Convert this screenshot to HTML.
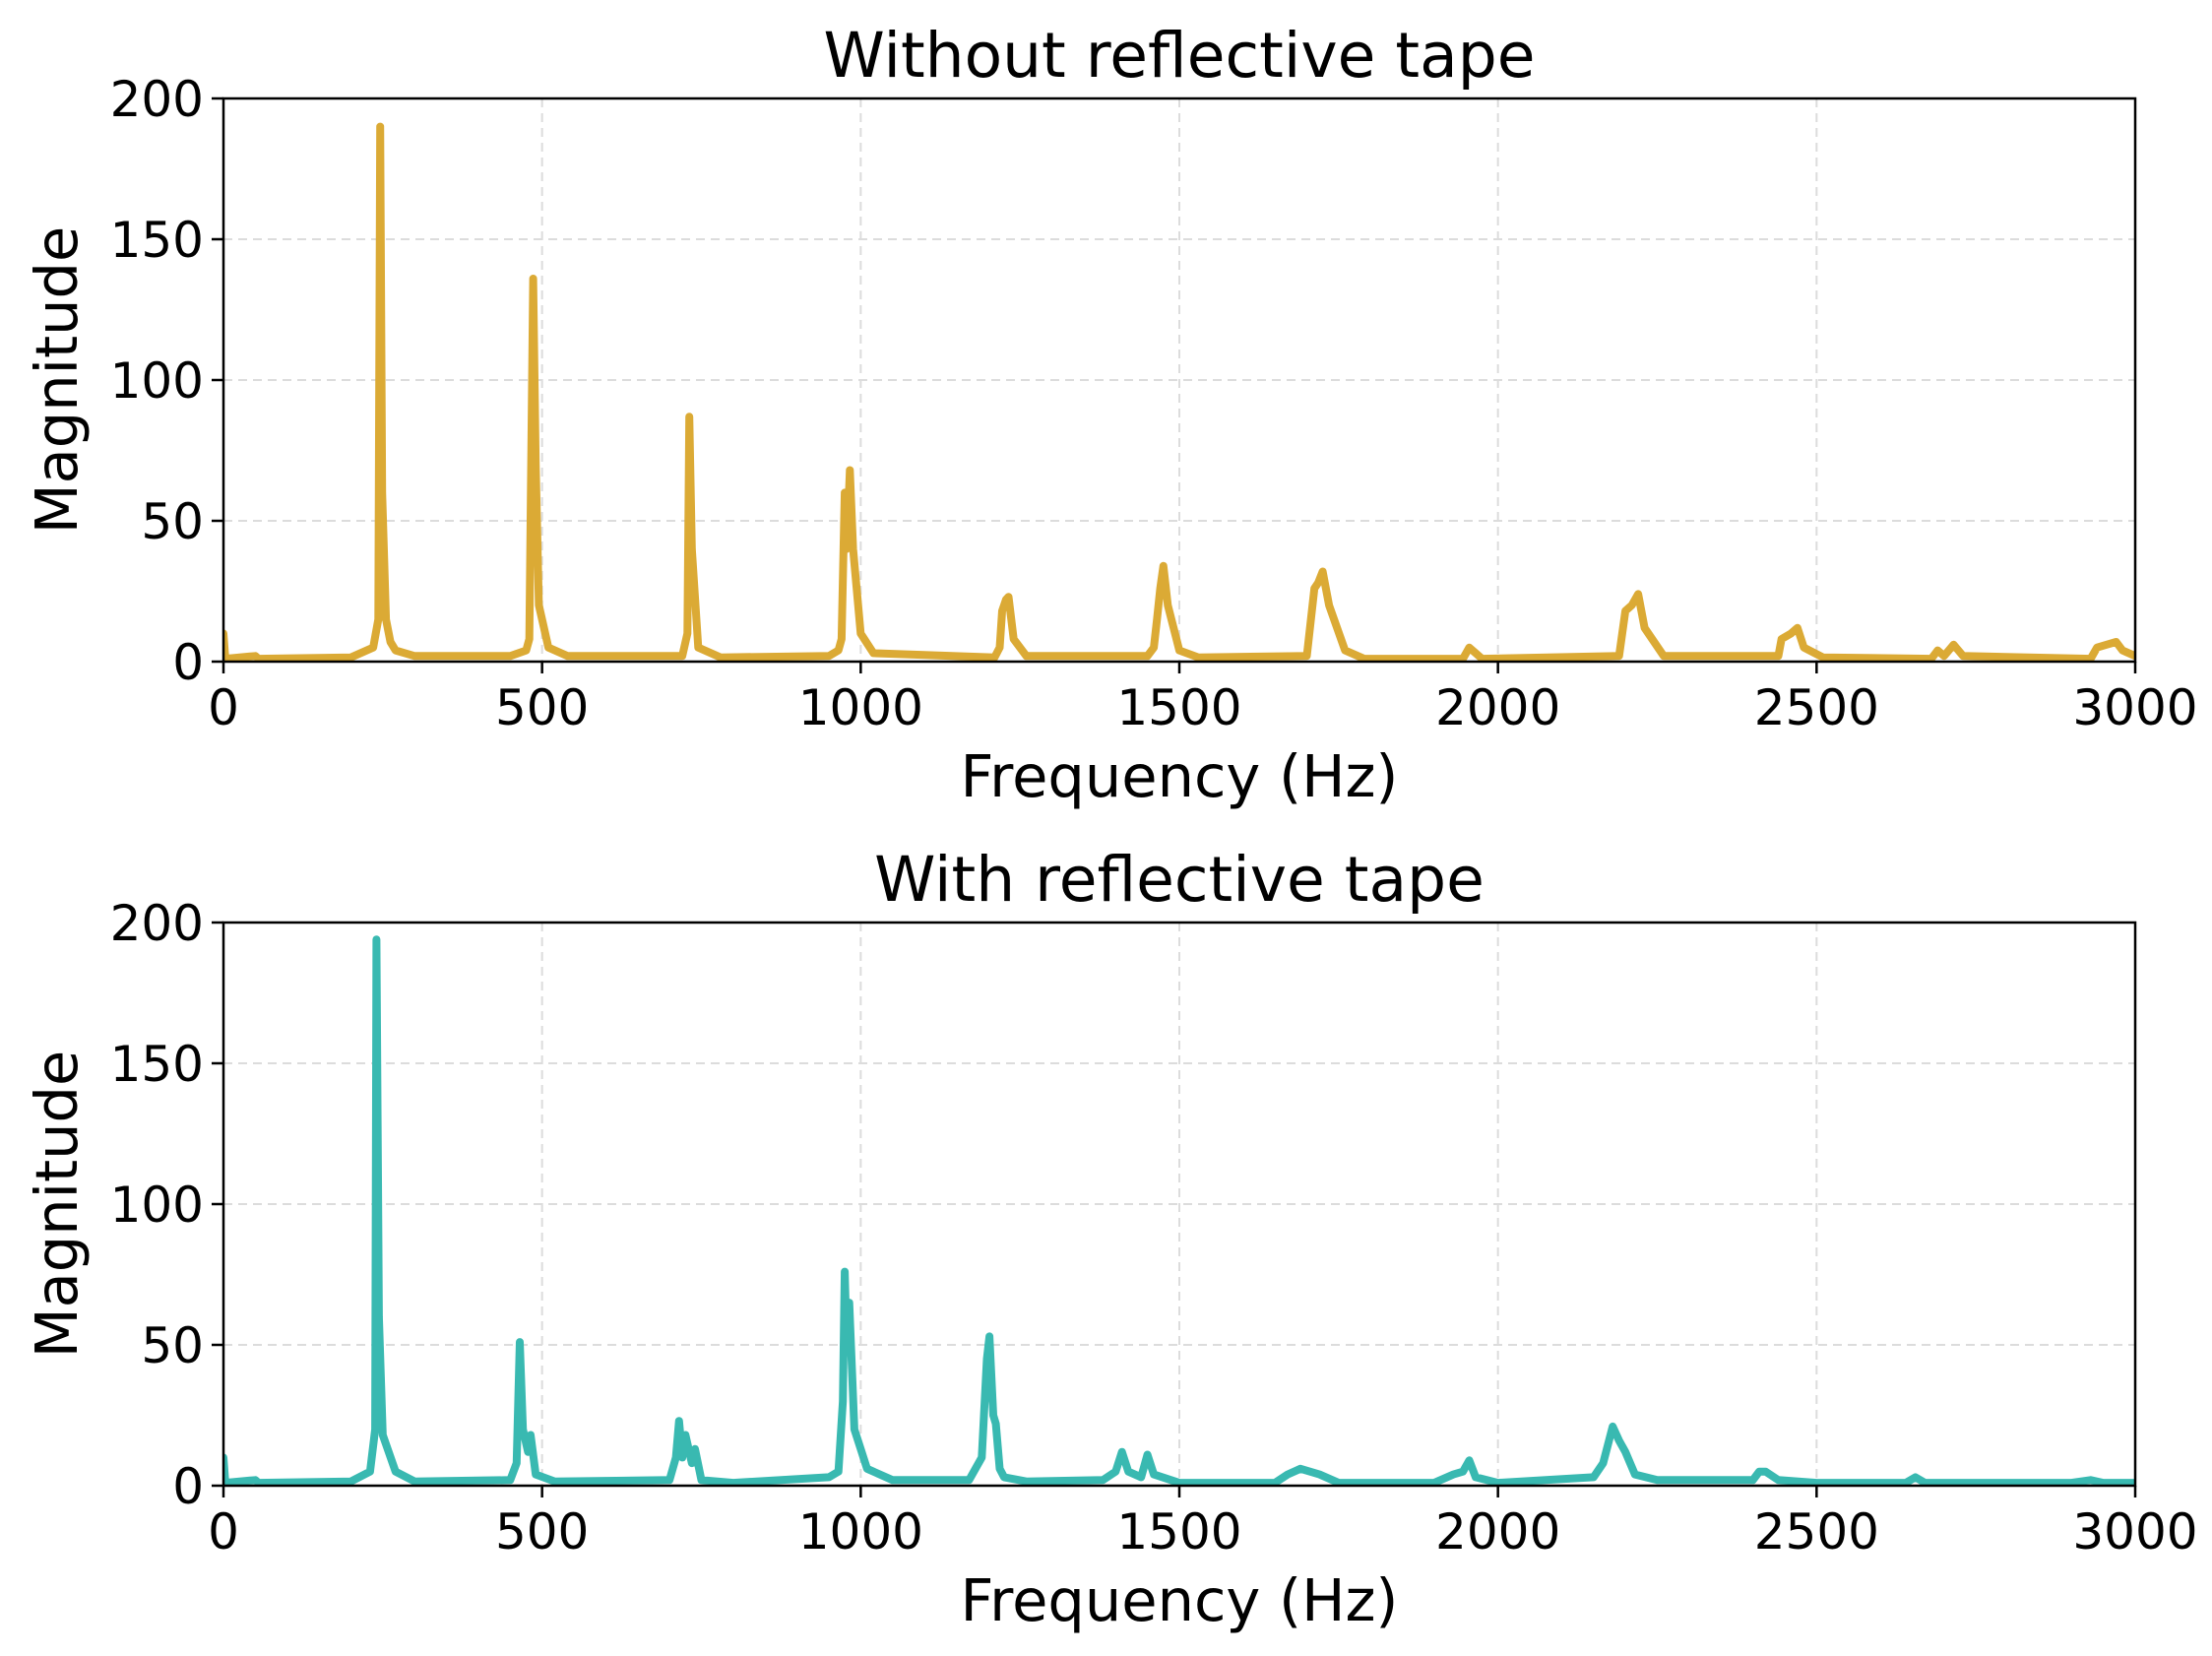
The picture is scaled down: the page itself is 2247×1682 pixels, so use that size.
<!DOCTYPE html>
<html><head><meta charset="utf-8"><style>
html,body{margin:0;padding:0;background:#fff;}
svg{display:block;font-family:"DejaVu Sans","Liberation Sans",sans-serif;}
</style></head><body>
<svg id="chart" width="2247" height="1682" viewBox="0 0 2247 1682"></svg>
<script>
const xTicks=[0,500,1000,1500,2000,2500,3000];
const yTicks=[0,50,100,150,200];
const titles=["Without reflective tape","With reflective tape"];
const freqTop=[0,3,50,55,200,235,243,246,249,255,262,270,300,450,475,480,486,490,495,510,540,720,728,731,735,745,780,950,965,970,975,978,983,988,1000,1020,1210,1218,1222,1228,1232,1240,1260,1450,1460,1465,1470,1475,1482,1500,1530,1700,1712,1718,1725,1735,1760,1790,1945,1955,1965,1975,2190,2200,2210,2220,2230,2260,2440,2445,2460,2470,2480,2510,2680,2690,2700,2715,2730,2930,2940,2955,2970,2980,3000];
const magTop=[10,1,2,1,1.5,5,15,190,60,15,7,4,2,2,4,8,136,70,20,5,2,2,10,87,40,5,1.5,2,4,8,60,40,68,40,10,3,1.5,5,18,22,23,8,2,2,5,15,26,34,20,4,1.5,2,26,28,32,20,4,1,1,5,3,1,2,18,20,24,12,2,2,8,10,12,5,1.5,1,4,2,6,2,1,5,6,7,4,2];
const freqBot=[0,3,50,55,200,230,238,240,244,250,270,300,450,460,465,470,478,482,490,520,700,710,715,720,725,735,740,750,800,950,965,972,975,978,982,990,1010,1050,1170,1190,1198,1202,1208,1212,1218,1225,1260,1380,1400,1410,1420,1440,1450,1460,1500,1650,1670,1690,1720,1750,1900,1930,1945,1955,1965,2000,2150,2165,2180,2190,2200,2215,2250,2400,2410,2420,2440,2500,2640,2655,2670,2900,2930,2950,3000];
const magBot=[10,1,2,1,1.5,5,20,194,60,18,5,1.5,2,8,51,20,12,18,4,1.5,2,10,23,10,18,8,13,2,1,3,5,30,76,50,65,20,6,2,2,10,45,53,25,22,6,3,1.5,2,5,12,5,3,11,4,1,1,4,6,4,1,1,4,5,9,3,1,3,8,21,16,12,4,2,2,5,5,2,1,1,3,1,1,2,1,1];

const svg=document.getElementById('chart');
const NS='http://www.w3.org/2000/svg';
function mk(tag,attrs,parent){const e=document.createElementNS(NS,tag);for(const k in attrs)e.setAttribute(k,attrs[k]);(parent||svg).appendChild(e);return e;}
const L=227,R=2169;
const panels=[{top:100,bot:672,f:freqTop,m:magTop,c:'#DBAA35',name:'without-tape'},{top:937,bot:1509,f:freqBot,m:magBot,c:'#39B9B1',name:'with-tape'}];
panels.forEach((p,i)=>{
  const xs=v=>L+(v/3000)*(R-L);
  const ys=v=>p.bot-(v/200)*(p.bot-p.top);
  const g=mk('g',{});
  
  
  xTicks.forEach(t=>{
    if(t>0&&t<3000){const gl=mk('line',{x1:xs(t),x2:xs(t),y1:p.top,y2:p.bot,stroke:'#dcdcdc','stroke-width':2,'stroke-dasharray':'9,6'},g);
    }
    const tk=mk('line',{x1:xs(t),x2:xs(t),y1:p.bot,y2:p.bot+12,stroke:'#000','stroke-width':2.5},g);
    
    const tl=mk('text',{x:xs(t),y:p.bot+64,'text-anchor':'middle','font-size':50},g);tl.textContent=t;
    
  });
  yTicks.forEach(t=>{
    if(t>0&&t<200){const gl=mk('line',{x1:L,x2:R,y1:ys(t),y2:ys(t),stroke:'#dcdcdc','stroke-width':2,'stroke-dasharray':'9,6'},g);
    }
    const tk=mk('line',{x1:L-12,x2:L,y1:ys(t),y2:ys(t),stroke:'#000','stroke-width':2.5},g);
    
    const tl=mk('text',{x:L-20,y:ys(t)+18,'text-anchor':'end','font-size':50},g);tl.textContent=t;
    
  });
  const d=p.f.map((f,k)=>(k?'L':'M')+xs(f).toFixed(1)+','+ys(p.m[k]).toFixed(1)).join(' ');
  const cp=mk('clipPath',{id:'cp'+i},g);mk('rect',{x:L,y:p.top-10,width:R-L,height:p.bot-p.top+10},cp);
  const ln=mk('path',{d:d,fill:'none',stroke:p.c,'stroke-width':8,'stroke-linejoin':'round','stroke-linecap':'round','clip-path':'url(#cp'+i+')'},g);
  
  const fr=mk('rect',{x:L,y:p.top,width:R-L,height:p.bot-p.top,fill:'none',stroke:'#000','stroke-width':2.5},g);
  
  const ti=mk('text',{x:(L+R)/2,y:p.top-22,'text-anchor':'middle','font-size':63},g);ti.textContent=titles[i];
  
  const xl=mk('text',{x:(L+R)/2,y:p.bot+137,'text-anchor':'middle','font-size':59},g);xl.textContent='Frequency (Hz)';
  
  const cy=(p.top+p.bot)/2;
  const yl=mk('text',{x:0,y:0,'text-anchor':'middle','font-size':59,transform:'translate(78,'+cy+') rotate(-90)'},g);yl.textContent='Magnitude';
  
});
</script>
</body></html>
